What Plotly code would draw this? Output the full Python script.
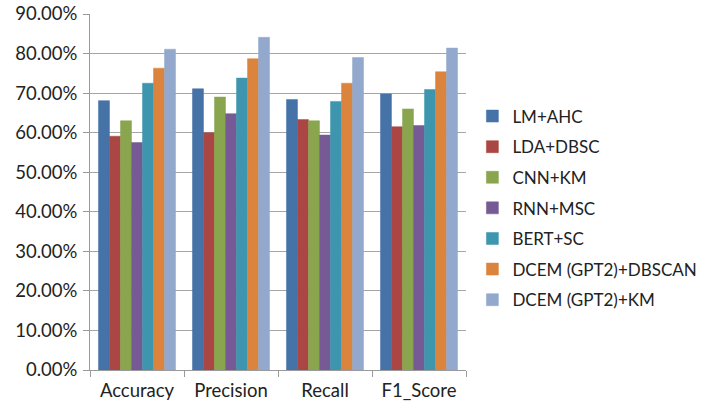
import plotly.graph_objects as go

categories = ["Accuracy", "Precision", "Recall", "F1_Score"]
series_names = ["LM+AHC", "LDA+DBSC", "CNN+KM", "RNN+MSC", "BERT+SC",
                "DCEM (GPT2)+DBSCAN", "DCEM (GPT2)+KM"]
lm_ahc = [0.681, 0.711, 0.684, 0.698]
lda_dbsc = [0.591, 0.600, 0.633, 0.615]
cnn_km = [0.630, 0.690, 0.630, 0.660]
rnn_msc = [0.575, 0.648, 0.594, 0.618]
bert_sc = [0.725, 0.738, 0.679, 0.709]
dcem_dbscan = [0.763, 0.787, 0.725, 0.754]
dcem_km = [0.811, 0.841, 0.790, 0.814]
series_values = [lm_ahc, lda_dbsc, cnn_km, rnn_msc, bert_sc, dcem_dbscan, dcem_km]
colors = ["#4572A7", "#AA4643", "#89A54E", "#765A95", "#3D96AE", "#DB843D", "#92A8CD"]

font = "Lato, 'Open Sans', sans-serif"

fig = go.Figure()
for i, (name, vals) in enumerate(zip(series_names, series_values)):
    fig.add_trace(go.Bar(
        x=categories, y=vals, name=name, legendgroup=name,
        marker=dict(color=colors[i], line=dict(color=colors[i], width=0.5)),
    ))

fig.update_layout(
    width=701, height=404,
    margin=dict(l=90, r=235, t=14, b=34, autoexpand=False),
    paper_bgcolor="white", plot_bgcolor="white",
    barmode="group", bargap=0.18, bargroupgap=0,
    font=dict(family=font, size=18, color="#222222"),
    legend=dict(
        x=1.017, y=0.455, xanchor="left", yanchor="middle",
        traceorder="grouped", tracegroupgap=5.5,
        font=dict(family=font, size=17, color="#222222"),
        itemwidth=30,
    ),
    xaxis=dict(
        automargin=False,
        showline=True, linecolor="#9A9A9A", linewidth=1,
        ticks="outside", tickson="boundaries", ticklen=6, tickcolor="#9A9A9A",
        tickfont=dict(size=18.5), ticklabelstandoff=4,
    ),
    yaxis=dict(
        automargin=False,
        range=[0, 0.9], dtick=0.1, tickformat=".2%",
        showline=True, linecolor="#9A9A9A", linewidth=1,
        ticks="outside", ticklen=6, tickcolor="#9A9A9A",
        showgrid=True, gridcolor="#A6A6A6", gridwidth=1,
        zeroline=False, tickfont=dict(size=18.5), ticklabelstandoff=2,
    ),
)

fig.write_html("out.html", config={"displayModeBar": False},
               post_script="document.body.style.margin='0';")
